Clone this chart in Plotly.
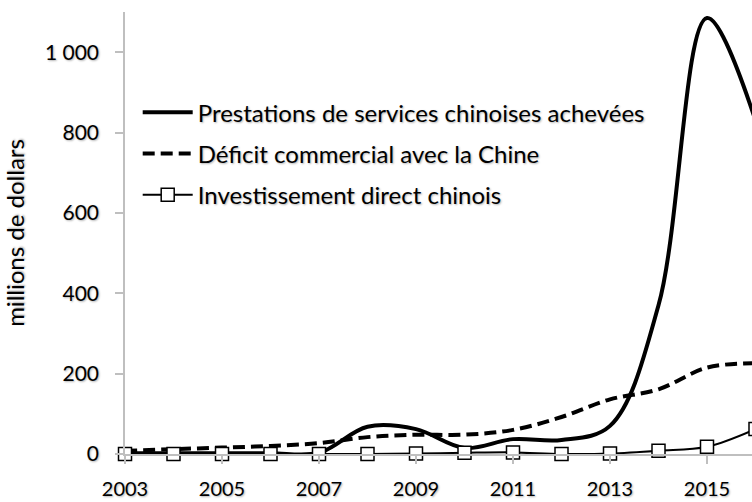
import plotly.graph_objects as go

years = [2003, 2004, 2005, 2006, 2007, 2008, 2009, 2010, 2011, 2012, 2013, 2014, 2015, 2016]
prestations = [2, 2, 2, 2, 3, 68, 62, 15, 37, 35, 70, 370, 1085, 830]
deficit = [8, 12, 16, 20, 27, 42, 48, 48, 60, 92, 136, 161, 215, 226]
investissement = [0, 0, 0, 0, 0, 0, 1, 3, 4, 0, 1, 8, 18, 62]

names = ["Prestations de services chinoises achevées",
         "Déficit commercial avec la Chine",
         "Investissement direct chinois"]

y_tickvals = [0, 200, 400, 600, 800, 1000]
y_ticktext = ["0", "200", "400", "600", "800", "1 000"]
x_tickvals = [2003, 2005, 2007, 2009, 2011, 2013, 2015]
x_ticktext = ["2003", "2005", "2007", "2009", "2011", "2013", "2015"]

FONT = "Lato"
AXIS = "#BFBFBF"
SHADOW = "1px 1px 2px rgba(0,0,0,0.3)"

fig = go.Figure()
fig.add_trace(go.Scatter(
    x=years, y=prestations, name=names[0], mode="lines", legendgroup="a",
    line=dict(color="black", width=4, shape="spline", smoothing=1.0)))
fig.add_trace(go.Scatter(
    x=years, y=deficit, name=names[1], mode="lines", legendgroup="b",
    line=dict(color="black", width=4, dash="12px,6px", shape="spline", smoothing=1.0)))
fig.add_trace(go.Scatter(
    x=years, y=investissement, name=names[2], mode="lines+markers", legendgroup="c",
    cliponaxis=False,
    line=dict(color="black", width=2, shape="spline", smoothing=1.0),
    marker=dict(symbol="square", size=13, color="white",
                line=dict(color="black", width=1.5))))

fig.update_layout(
    width=760, height=502, autosize=False,
    paper_bgcolor="white", plot_bgcolor="white",
    margin=dict(l=125, r=0, t=12, b=48),
    font=dict(family=FONT, size=21, color="black"),
    showlegend=True,
    legend=dict(x=0.02, y=0.823, xanchor="left", yanchor="top",
                bgcolor="rgba(0,0,0,0)",
                font=dict(family=FONT, size=24, color="black", shadow=SHADOW),
                tracegroupgap=7, itemwidth=50),
)
fig.update_xaxes(
    range=[2003, 2003 + 635 / 48.5], tickvals=x_tickvals, ticktext=x_ticktext,
    showline=True, linecolor=AXIS, linewidth=1.5, ticks="outside", ticklen=8,
    tickcolor=AXIS, tickwidth=1.5, showgrid=False, zeroline=False,
    tickfont=dict(family=FONT, size=20, color="black", shadow=SHADOW), ticklabelstandoff=8)
fig.update_yaxes(
    range=[0, 1100], tickvals=y_tickvals, ticktext=y_ticktext,
    showline=True, linecolor=AXIS, linewidth=1.5, ticks="outside", ticklen=8,
    tickcolor=AXIS, tickwidth=1.5, showgrid=False, zeroline=False,
    tickfont=dict(family=FONT, size=21, color="black", shadow=SHADOW), ticklabelstandoff=12,
    title=dict(text="millions de dollars",
               font=dict(family=FONT, size=24, color="black", shadow=SHADOW),
               standoff=14))

fig.write_html(
    "out.html",
    config={"displayModeBar": False},
    post_script="document.body.style.margin='0';document.body.style.overflow='hidden';"
                "document.documentElement.style.overflow='hidden';")
